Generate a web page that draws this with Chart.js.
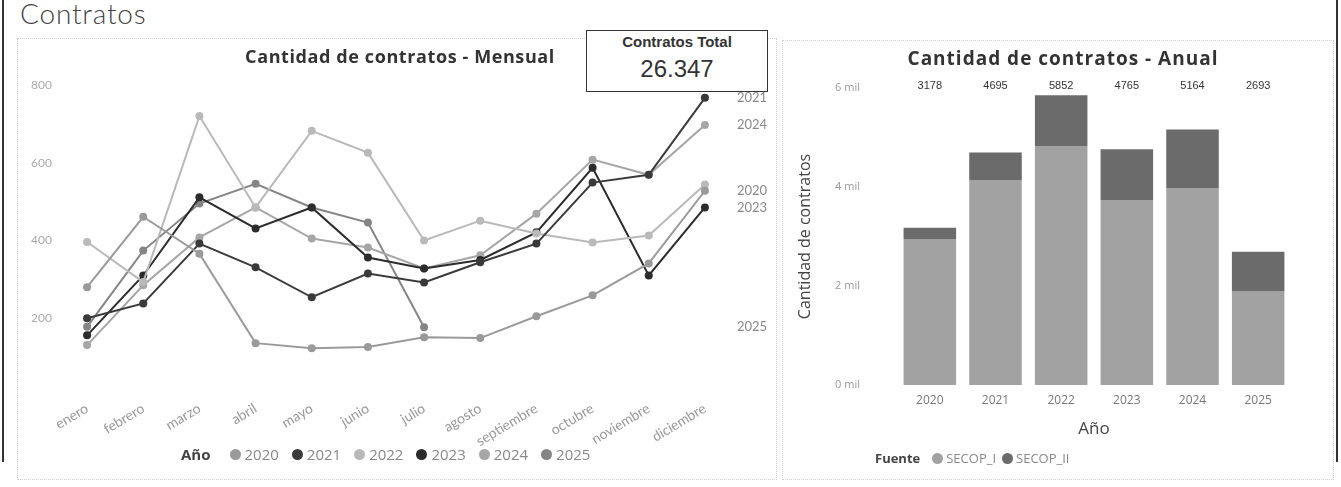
<!DOCTYPE html>
<html>
<head>
<meta charset="utf-8">
<script src="https://cdn.jsdelivr.net/npm/chart.js@4.4.1/dist/chart.umd.min.js"></script>
<style>
  body { margin: 0; background: #fff; width: 1341px; height: 487px; position: relative; overflow: hidden; font-family: 'Open Sans', sans-serif; }
  .frame { position: absolute; left: 2px; top: 0; width: 1332px; height: 462px; border-left: 2px solid #333; border-right: 2px solid #333; }
  .heading { position: absolute; left: 20px; top: -4px; font-family: Lato, sans-serif; font-weight: 300; font-size: 28px; letter-spacing: 0.8px; color: #444; }
  .panel { position: absolute; border: 1px dotted #cfcfcf; }
  .title { position: absolute; font-weight: bold; color: #333; white-space: nowrap; transform: translate(-50%, -50%); }
  .card { position: absolute; left: 586px; top: 30px; width: 180px; height: 60px; border: 1.5px solid #333; background: #fff; font-family: 'Liberation Sans', Arial, sans-serif; text-align: center; color: #333; }
  .card .lbl { font-weight: bold; font-size: 15px; margin-top: 2px; }
  .card .val { font-size: 24px; margin-top: 5px; }
  .legend { position: absolute; display: flex; align-items: center; color: #888; white-space: nowrap; }
  .legend b { color: #444; margin-right: 6px; }
  .legend span.dot { display: inline-block; width: 11px; height: 11px; border-radius: 50%; }
  #legMensual span.dot { margin: 0 4px 0 13px; }
  #legAnual span.dot { margin: 0 3px 0 6px; }
  canvas { position: absolute; }
</style>
</head>
<body>
<div class="frame"></div>
<div class="heading">Contratos</div>

<div class="panel" style="left:17px; top:38px; width:758px; height:440px;"></div>
<div class="panel" style="left:782px; top:40px; width:550px; height:438px;"></div>

<canvas id="mensual" style="left:17px; top:38px;" width="758" height="440"></canvas>
<canvas id="anual" style="left:782px; top:40px;" width="550" height="438"></canvas>

<div class="title" style="left:400px; top:56px; font-size:18px; letter-spacing:0.6px;">Cantidad de contratos - Mensual</div>
<div class="title" style="left:1063px; top:58px; font-size:19px; letter-spacing:1px;">Cantidad de contratos - Anual</div>

<div class="card"><div class="lbl">Contratos Total</div><div class="val">26.347</div></div>

<div class="legend" id="legMensual" style="left:181px; top:444px; font-size:15px;"><b>Año</b></div>
<div class="legend" id="legAnual" style="left:875px; top:449px; font-size:13px;"><b>Fuente</b></div>

<script>
// datos mensuales
const meses = ['enero', 'febrero', 'marzo', 'abril', 'mayo', 'junio', 'julio', 'agosto', 'septiembre', 'octubre', 'noviembre', 'diciembre'];
const anios = ['2020', '2021', '2022', '2023', '2024', '2025'];
const v2020 = [280, 461, 366, 136, 123, 126, 151, 149, 205, 259, 341, 528];
const v2021 = [200, 238, 392, 331, 254, 315, 292, 344, 392, 549, 569, 767];
const v2022 = [396, 293, 720, 485, 682, 626, 400, 451, 418, 395, 413, 544];
const v2023 = [156, 310, 511, 431, 485, 356, 328, 350, 421, 587, 310, 485];
const v2024 = [131, 285, 408, 485, 405, 382, 328, 362, 469, 608, 569, 697];
const v2025 = [178, 374, 495, 546, 485, 446, 177];
const yTicksMensual = [200, 400, 600, 800];

// datos anuales
const aniosBar = ['2020', '2021', '2022', '2023', '2024', '2025'];
const secop1 = [2950, 4140, 4830, 3735, 3980, 1900];
const secop2 = [228, 555, 1022, 1030, 1184, 793];
const fuentes = ['SECOP_I', 'SECOP_II'];

const coloresAnio = ['#9a9a9a', '#3a3a3a', '#b9b9b9', '#2c2c2c', '#a6a6a6', '#858585'];
const coloresFuente = ['#a2a2a2', '#6b6b6b'];

const seriesMes = [v2020, v2021, v2022, v2023, v2024, v2025];

// etiquetas al final de cada linea (se ocultan si se solapan)
const endLabels = {
  id: 'endLabels',
  afterDatasetsDraw(chart) {
    const ctx = chart.ctx;
    const y = chart.scales.y;
    const used = [];
    ctx.save();
    ctx.font = '13px Lato';
    ctx.fillStyle = '#888';
    ctx.textAlign = 'left';
    ctx.textBaseline = 'middle';
    chart.data.datasets.forEach(ds => {
      const last = ds.data[ds.data.length - 1];
      const py = y.getPixelForValue(last);
      if (used.some(u => Math.abs(u - py) < 11)) return;
      used.push(py);
      ctx.fillText(ds.label, chart.chartArea.right + 4, py);
    });
    ctx.restore();
  }
};

new Chart(document.getElementById('mensual'), {
  type: 'line',
  data: {
    labels: meses,
    datasets: seriesMes.map((d, i) => ({
      label: anios[i],
      data: d,
      borderColor: coloresAnio[i],
      backgroundColor: coloresAnio[i],
      borderWidth: 2,
      pointRadius: 4,
      pointBorderWidth: 0,
      tension: 0,
    })),
  },
  options: {
    responsive: false,
    animation: false,
    layout: { padding: { left: 0, right: 42, top: 47, bottom: 0 } },
    plugins: { legend: { display: false }, tooltip: { enabled: false } },
    scales: {
      x: {
        offset: true,
        grid: { display: false, drawTicks: false },
        border: { display: false },
        ticks: { color: '#999', font: { family: 'Lato', size: 14 }, minRotation: 31, maxRotation: 31, padding: 4 },
        afterFit: s => { s.height = 82; },
      },
      y: {
        min: 0,
        max: 800,
        grid: { display: false, drawTicks: false },
        border: { display: false },
        afterBuildTicks: s => { s.ticks = yTicksMensual.map(v => ({ value: v })); },
        ticks: { color: '#aaa', font: { family: 'Lato', size: 12 }, padding: 7 },
        afterFit: s => { s.width = 42; },
      },
    },
  },
  plugins: [endLabels],
});

// totales arriba de cada barra
const totalLabels = {
  id: 'totalLabels',
  afterDatasetsDraw(chart) {
    const ctx = chart.ctx;
    const x = chart.scales.x;
    ctx.save();
    ctx.font = '11px "Liberation Sans"';
    ctx.fillStyle = '#333';
    ctx.textAlign = 'center';
    ctx.textBaseline = 'middle';
    aniosBar.forEach((a, i) => {
      ctx.fillText(String(secop1[i] + secop2[i]), x.getPixelForValue(i), chart.chartArea.top - 2);
    });
    ctx.restore();
  }
};

new Chart(document.getElementById('anual'), {
  type: 'bar',
  data: {
    labels: aniosBar,
    datasets: [
      { label: fuentes[0], data: secop1, backgroundColor: coloresFuente[0], categoryPercentage: 0.8, barPercentage: 1 },
      { label: fuentes[1], data: secop2, backgroundColor: coloresFuente[1], categoryPercentage: 0.8, barPercentage: 1 },
    ],
  },
  options: {
    responsive: false,
    animation: false,
    layout: { padding: { left: 0, right: 41, top: 48, bottom: 0 } },
    plugins: { legend: { display: false }, tooltip: { enabled: false } },
    scales: {
      x: {
        stacked: true,
        grid: { display: false, drawTicks: false },
        border: { display: false },
        ticks: { color: '#777', font: { family: 'Open Sans', size: 12 }, padding: 8 },
        title: { display: true, text: 'Año', color: '#444', font: { family: 'Open Sans', size: 17 }, padding: { top: 0, bottom: 39 } },
        afterFit: s => { s.height = 93; },
      },
      y: {
        stacked: true,
        min: 0,
        max: 6000,
        grid: { display: false, drawTicks: false },
        border: { display: false },
        ticks: { stepSize: 2000, color: '#999', font: { family: 'Open Sans', size: 11 }, padding: 37,
          callback: v => (v / 1000) + ' mil' },
        title: { display: true, text: 'Cantidad de contratos', color: '#444', font: { family: 'Open Sans', size: 16 }, padding: { top: 14, bottom: 0 } },
        afterFit: s => { s.width = 115; },
      },
    },
  },
  plugins: [totalLabels],
});

// leyendas
const legM = document.getElementById('legMensual');
anios.forEach((a, i) => {
  legM.innerHTML += `<span class="dot" style="background:${coloresAnio[i]}"></span>${a}`;
});
const legA = document.getElementById('legAnual');
fuentes.forEach((f, i) => {
  legA.innerHTML += `<span class="dot" style="background:${coloresFuente[i]}"></span>${f}`;
});
</script>
</body>
</html>
